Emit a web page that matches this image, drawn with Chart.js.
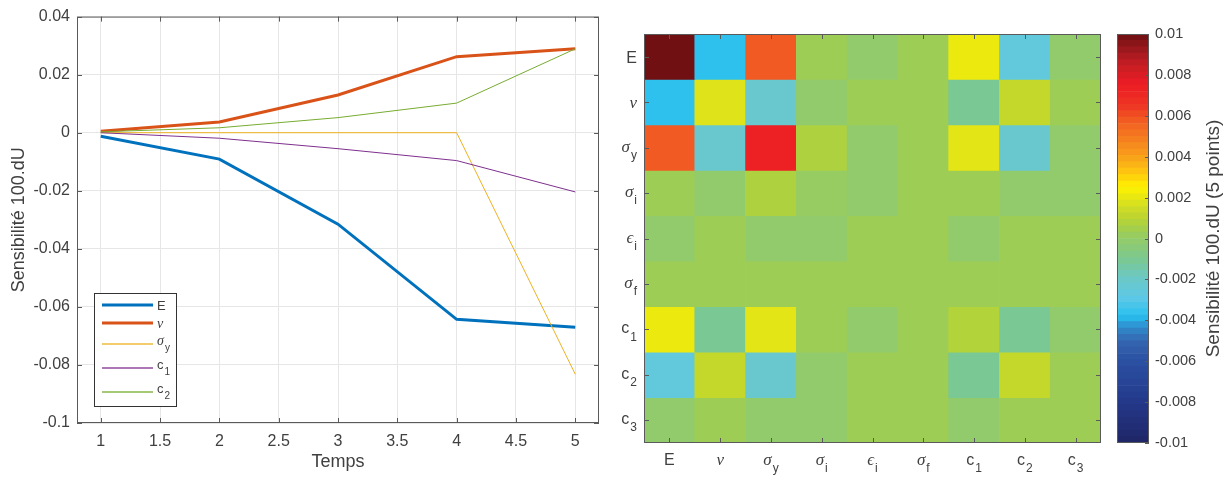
<!DOCTYPE html>
<html>
<head>
<meta charset="utf-8">
<script src="https://cdn.jsdelivr.net/npm/chart.js@4/dist/chart.umd.min.js"></script>
<style>
  body { margin: 0; background: #fff; width: 1231px; height: 477px; position: relative; overflow: hidden; }
  canvas { position: absolute; top: 0; }
  #lineChart { left: 0; }
  #heatChart { left: 610px; }
  #cbarChart { left: 1110px; }
</style>
</head>
<body>
<canvas id="lineChart" width="610" height="477"></canvas>
<canvas id="heatChart" width="500" height="477"></canvas>
<canvas id="cbarChart" width="121" height="477"></canvas>
<script>
// sensibilite au cours du temps (5 points)
const temps = [1, 2, 3, 4, 5];
const sensE  = [-0.0012, -0.0091, -0.0315, -0.0643, -0.0670];
const sensNu = [0.0005, 0.0037, 0.0130, 0.0262, 0.0289];
const sensSy = [0, 0, 0, 0, -0.0832];
const sensC1 = [0, -0.0019, -0.0055, -0.0096, -0.0204];
const sensC2 = [0.0003, 0.0017, 0.0052, 0.0102, 0.0289];

const xTickVals = [1, 1.5, 2, 2.5, 3, 3.5, 4, 4.5, 5];
const yTickVals = [-0.1, -0.08, -0.06, -0.04, -0.02, 0, 0.02, 0.04];
const yTickLabels = ['-0.1', '-0.08', '-0.06', '-0.04', '-0.02', '0', '0.02', '0.04'];

// parametres de la matrice
const paramBase = ['E', 'ν', 'σ', 'σ', 'ϵ', 'σ', 'c', 'c', 'c'];
const paramSub  = ['', '', 'y', 'i', 'i', 'f', '1', '2', '3'];
const sensMatrix = [
  [0.0099, -0.0037, 0.0058, 0.0003, -0.0001, 0.0003, 0.0021, -0.0026, -0.0001],
  [-0.0037, 0.0018, -0.0022, -0.0001, 0.0003, 0.0003, -0.0011, 0.0012, 0.0003],
  [0.0058, -0.0022, 0.0073, 0.0007, -0.0001, 0.0003, 0.0019, -0.0022, -0.0001],
  [0.0003, -0.0001, 0.0007, 0.0001, -0.0001, 0.0003, 0.0003, -0.0001, -0.0001],
  [-0.0001, 0.0003, -0.0001, -0.0001, 0.0003, 0.0003, -0.0001, 0.0003, 0.0003],
  [0.0003, 0.0003, 0.0003, 0.0003, 0.0003, 0.0003, 0.0003, 0.0003, 0.0003],
  [0.0021, -0.0011, 0.0019, 0.0003, -0.0001, 0.0003, 0.0008, -0.0011, -0.0001],
  [-0.0026, 0.0012, -0.0022, -0.0001, 0.0003, 0.0003, -0.0011, 0.0012, 0.0003],
  [-0.0001, 0.0003, -0.0001, -0.0001, 0.0003, 0.0003, -0.0001, 0.0003, 0.0003]
];

const cbarTickVals = [-0.01, -0.008, -0.006, -0.004, -0.002, 0, 0.002, 0.004, 0.006, 0.008, 0.01];
const cbarTickLabels = ['-0.01', '-0.008', '-0.006', '-0.004', '-0.002', '0', '0.002', '0.004', '0.006', '0.008', '0.01'];

// colormap
const cmapVals = [-0.010, -0.008, -0.006, -0.005, -0.0043, -0.0038, -0.003, -0.002, -0.001, 0, 0.0005, 0.001, 0.0015,
                  0.0025, 0.0032, 0.004, 0.005, 0.0058, 0.0065, 0.0075, 0.0085, 0.0095, 0.010];
const cmapCols = ['#1f2566', '#24398a', '#2b50a2', '#3467b0', '#2f8fd0', '#27c0ef', '#5cc8e8', '#6bc8c8', '#7cc88e', '#94cb68',
                  '#a5cf4a', '#bcd531', '#d0dc25', '#fff200', '#fdc70f', '#f9a01b', '#f47920', '#f15a22', '#ee3524', '#ed1c24',
                  '#c41e24', '#8b1519', '#6b0f12'];
const cbarN = 64;

function hexRgb(h) { return [parseInt(h.slice(1, 3), 16), parseInt(h.slice(3, 5), 16), parseInt(h.slice(5, 7), 16)]; }
function cmap(v) {
  if (v <= cmapVals[0]) return cmapCols[0];
  if (v >= cmapVals[cmapVals.length - 1]) return cmapCols[cmapCols.length - 1];
  let i = 0;
  while (v > cmapVals[i + 1]) i++;
  const t = (v - cmapVals[i]) / (cmapVals[i + 1] - cmapVals[i]);
  const a = hexRgb(cmapCols[i]), b = hexRgb(cmapCols[i + 1]);
  const c = a.map((x, k) => Math.round(x + (b[k] - x) * t));
  return 'rgb(' + c.join(',') + ')';
}

const txtColor = '#404040';
const boxColor = '#5a5a5a';
const greek = 'νσϵ';

// texte avec indice facon TeX
function drawTex(ctx, base, sub, x, y, align, size) {
  const baseFont = greek.includes(base) ? 'italic ' + (size + 1) + 'px "Liberation Serif"' : size + 'px "Liberation Sans"';
  const subSize = Math.round(size * 0.78);
  const subFont = subSize + 'px "Liberation Sans"';
  ctx.font = baseFont;
  const wb = ctx.measureText(base).width;
  ctx.font = subFont;
  const ws = sub ? ctx.measureText(sub).width + 1 : 0;
  let x0 = x;
  if (align === 'right') x0 = x - wb - ws;
  if (align === 'center') x0 = x - (wb + ws) / 2;
  ctx.textAlign = 'left';
  ctx.textBaseline = 'alphabetic';
  ctx.fillStyle = txtColor;
  ctx.font = baseFont;
  ctx.fillText(base, x0, y);
  if (sub) {
    ctx.font = subFont;
    ctx.fillText(sub, x0 + wb + 1, y + size * 0.45);
  }
}

// ---------- courbes ----------
const lineSeries = [
  { base: 'E', sub: '', data: sensE, color: '#0072BD', w: 3 },
  { base: 'ν', sub: '', data: sensNu, color: '#D95319', w: 3 },
  { base: 'σ', sub: 'y', data: sensSy, color: '#EDB120', w: 1 },
  { base: 'c', sub: '1', data: sensC1, color: '#7E2F8E', w: 1 },
  { base: 'c', sub: '2', data: sensC2, color: '#77AC30', w: 1 }
];

const boxPlugin = {
  id: 'box',
  afterDraw(chart) {
    const ctx = chart.ctx, a = chart.chartArea;
    const xs = chart.scales.x, ys = chart.scales.y;
    ctx.save();
    ctx.strokeStyle = boxColor;
    ctx.lineWidth = 1;
    ctx.strokeRect(a.left + 0.5, a.top + 0.5, a.right - a.left - 1, a.bottom - a.top - 1);
    ctx.beginPath();
    xTickVals.forEach(v => {
      const px = Math.round(xs.getPixelForValue(v)) + 0.5;
      ctx.moveTo(px, a.bottom); ctx.lineTo(px, a.bottom - 5);
      ctx.moveTo(px, a.top); ctx.lineTo(px, a.top + 5);
    });
    yTickVals.forEach(v => {
      const py = Math.round(ys.getPixelForValue(v)) + 0.5;
      ctx.moveTo(a.left, py); ctx.lineTo(a.left + 5, py);
      ctx.moveTo(a.right, py); ctx.lineTo(a.right - 5, py);
    });
    ctx.stroke();

    // legende
    const lx = 94, ly = 293, lw = 82, lh = 113;
    const rowsY = [305, 323, 344, 368, 392];
    ctx.fillStyle = '#fff';
    ctx.fillRect(lx, ly, lw, lh);
    ctx.strokeStyle = '#333';
    ctx.strokeRect(lx + 0.5, ly + 0.5, lw, lh);
    lineSeries.forEach((s, i) => {
      const yy = rowsY[i];
      ctx.strokeStyle = s.color;
      ctx.globalAlpha = s.w > 1 ? 1 : 0.65;
      ctx.lineWidth = s.w > 1 ? 3 : 2;
      ctx.beginPath();
      ctx.moveTo(102, yy); ctx.lineTo(153, yy);
      ctx.stroke();
      ctx.globalAlpha = 1;
      drawTex(ctx, s.base, s.sub, 157, yy + (s.sub ? 1 : 5), 'left', 13);
    });
    ctx.restore();
  }
};

new Chart(document.getElementById('lineChart'), {
  type: 'line',
  data: {
    datasets: lineSeries.map((s, i) => ({
      label: s.base + s.sub,
      data: temps.map((t, k) => ({ x: t, y: s.data[k] })),
      borderColor: s.color,
      borderWidth: s.w,
      pointRadius: 0,
      tension: 0,
      fill: false,
      order: lineSeries.length - i
    }))
  },
  options: {
    responsive: false,
    animation: false,
    layout: { padding: { left: 0, top: 12, right: 11, bottom: 0 } },
    plugins: { legend: { display: false }, tooltip: { enabled: false } },
    scales: {
      x: {
        type: 'linear', min: 0.8, max: 5.2,
        afterBuildTicks: s => { s.ticks = xTickVals.map(v => ({ value: v })); },
        ticks: { color: txtColor, font: { family: 'Liberation Sans', size: 16 }, padding: 9, maxRotation: 0, autoSkip: false, callback: v => String(v) },
        grid: { color: '#e6e6e6', drawTicks: false },
        border: { display: false },
        title: { display: true, text: 'Temps', color: txtColor, font: { family: 'Liberation Sans', size: 18 }, padding: { top: 0, bottom: 4 } },
        afterFit: s => { s.height = 54; }
      },
      y: {
        type: 'linear', min: -0.1, max: 0.04,
        afterBuildTicks: s => { s.ticks = yTickVals.map(v => ({ value: v })); },
        ticks: { color: txtColor, font: { family: 'Liberation Sans', size: 16 }, padding: 7, autoSkip: false, callback: (v, i) => yTickLabels[i] },
        grid: { color: '#e6e6e6', drawTicks: false },
        border: { display: false },
        title: { display: true, text: 'Sensibilité 100.dU', color: txtColor, font: { family: 'Liberation Sans', size: 18 }, padding: { top: 8, bottom: 0 } },
        afterFit: s => { s.width = 77; }
      }
    }
  },
  plugins: [boxPlugin]
});

// ---------- matrice ----------
const heatPlugin = {
  id: 'heatLabels',
  afterDraw(chart) {
    const ctx = chart.ctx, a = chart.chartArea;
    const xs = chart.scales.x, ys = chart.scales.y;
    ctx.save();
    ctx.strokeStyle = boxColor;
    ctx.lineWidth = 1;
    ctx.strokeRect(a.left + 0.5, a.top + 0.5, a.right - a.left - 1, a.bottom - a.top - 1);
    ctx.beginPath();
    paramBase.forEach((b, i) => {
      const px = Math.round(xs.getPixelForValue(i)) + 0.5;
      const py = Math.round(ys.getPixelForValue(i + 0.5)) + 0.5;
      ctx.moveTo(px, a.bottom); ctx.lineTo(px, a.bottom - 5);
      ctx.moveTo(px, a.top); ctx.lineTo(px, a.top + 5);
      ctx.moveTo(a.left, py); ctx.lineTo(a.left + 5, py);
      ctx.moveTo(a.right, py); ctx.lineTo(a.right - 5, py);
    });
    ctx.stroke();
    paramBase.forEach((b, i) => {
      const px = xs.getPixelForValue(i);
      const py = ys.getPixelForValue(i + 0.5);
      drawTex(ctx, b, paramSub[i], a.left - 7, py + (paramSub[i] ? 4 : 6), 'right', 16);
      drawTex(ctx, b, paramSub[i], px, a.bottom + 22, 'center', 16);
    });
    ctx.restore();
  }
};

new Chart(document.getElementById('heatChart'), {
  type: 'bar',
  data: {
    labels: paramBase.map((b, i) => b + paramSub[i]),
    datasets: sensMatrix.map((row, r) => ({
      label: paramBase[r] + paramSub[r],
      data: row.map(() => [r, r + 1]),
      backgroundColor: row.map(v => cmap(v)),
      borderWidth: 0,
      barPercentage: 1,
      categoryPercentage: 1,
      grouped: false
    }))
  },
  options: {
    responsive: false,
    animation: false,
    layout: { padding: { left: 0, top: 34, right: 9, bottom: 0 } },
    plugins: { legend: { display: false }, tooltip: { enabled: false } },
    scales: {
      x: { ticks: { display: false }, grid: { display: false }, border: { display: false }, afterFit: s => { s.height = 34; } },
      y: { min: 0, max: 9, reverse: true, ticks: { display: false }, grid: { display: false }, border: { display: false }, afterFit: s => { s.width = 34; } }
    }
  },
  plugins: [heatPlugin]
});

// ---------- barre de couleur ----------
const cMin = cbarTickVals[0], cMax = cbarTickVals[cbarTickVals.length - 1];
const cStep = (cMax - cMin) / cbarN;
const cbarPlugin = {
  id: 'cbarBox',
  afterDraw(chart) {
    const ctx = chart.ctx, a = chart.chartArea, ys = chart.scales.y;
    ctx.save();
    ctx.strokeStyle = boxColor;
    ctx.lineWidth = 1;
    ctx.strokeRect(a.left + 0.5, a.top + 0.5, a.right - a.left - 1, a.bottom - a.top - 1);
    ctx.beginPath();
    cbarTickVals.forEach(v => {
      const py = Math.round(ys.getPixelForValue(v)) + 0.5;
      ctx.moveTo(a.right, py); ctx.lineTo(a.right - 4, py);
    });
    ctx.stroke();
    ctx.translate(104, (a.top + a.bottom) / 2);
    ctx.rotate(-Math.PI / 2);
    ctx.fillStyle = txtColor;
    ctx.font = '19px "Liberation Sans"';
    ctx.textAlign = 'center';
    ctx.textBaseline = 'middle';
    ctx.fillText('Sensibilité 100.dU (5 points)', 0, 0);
    ctx.restore();
  }
};

const bandIdx = Array.from({ length: cbarN }, (_, k) => k);
new Chart(document.getElementById('cbarChart'), {
  type: 'bar',
  data: {
    labels: [''],
    datasets: bandIdx.map(k => ({
      data: [[cMin + k * cStep, cMin + (k + 1) * cStep]],
      backgroundColor: cmap(cMin + (k + 0.5) * cStep),
      borderWidth: 0,
      barPercentage: 1,
      categoryPercentage: 1,
      grouped: false
    }))
  },
  options: {
    responsive: false,
    animation: false,
    layout: { padding: { left: 7, top: 34, right: 0, bottom: 34 } },
    plugins: { legend: { display: false }, tooltip: { enabled: false } },
    scales: {
      x: { display: false },
      y: {
        position: 'right', min: cMin, max: cMax,
        afterBuildTicks: s => { s.ticks = cbarTickVals.map(v => ({ value: v })); },
        ticks: { color: txtColor, font: { family: 'Liberation Sans', size: 14.5 }, padding: 6, autoSkip: false, callback: (v, i) => cbarTickLabels[i] },
        grid: { display: false, drawTicks: false },
        border: { display: false },
        afterFit: s => { s.width = 82; }
      }
    }
  },
  plugins: [cbarPlugin]
});
</script>
</body>
</html>
